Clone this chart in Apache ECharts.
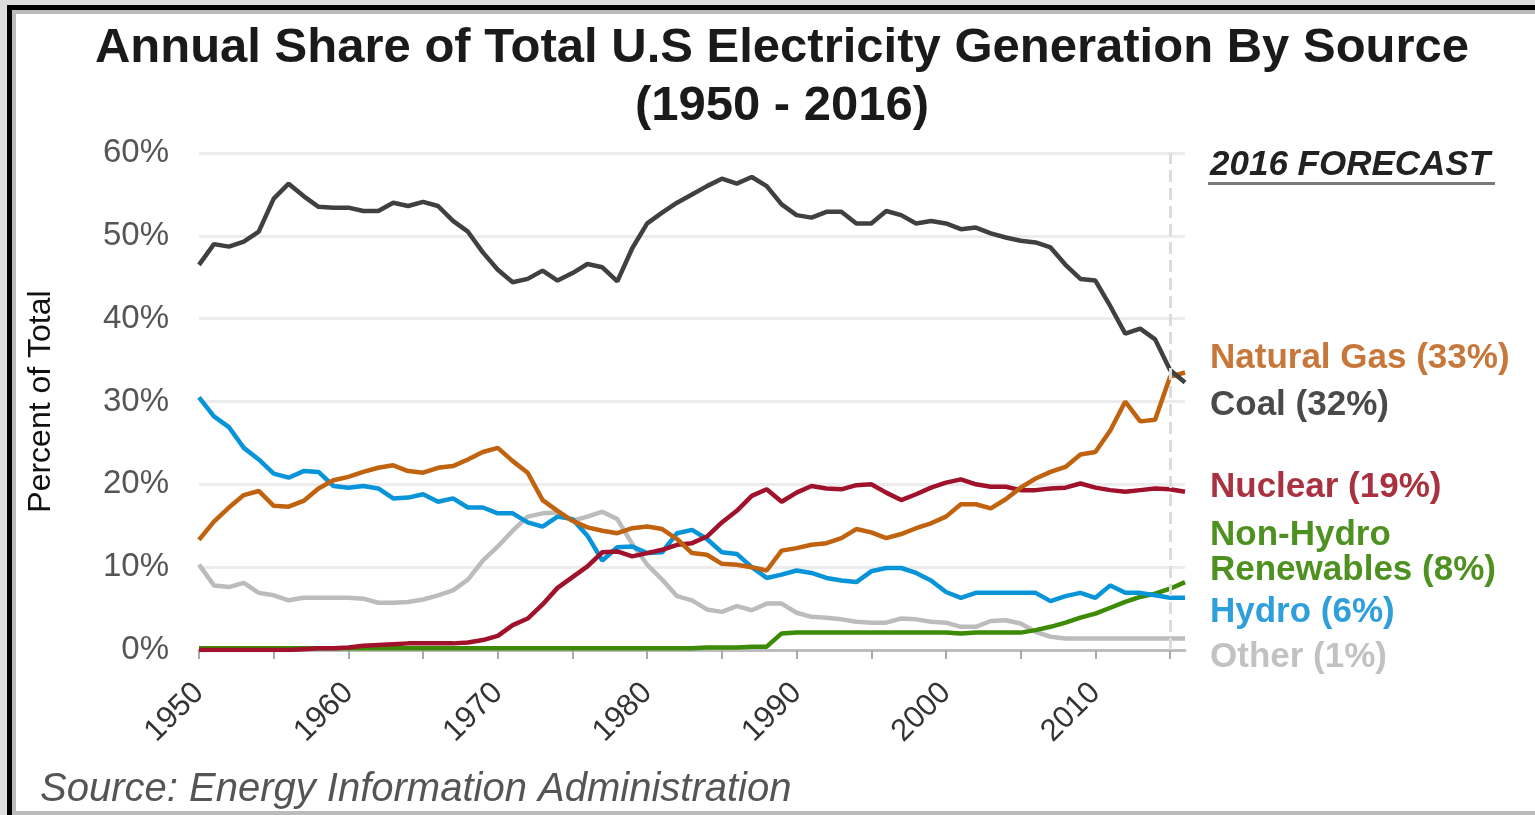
<!DOCTYPE html>
<html>
<head>
<meta charset="utf-8">
<title>Annual Share of Total U.S Electricity Generation By Source</title>
<script src="https://cdn.jsdelivr.net/npm/echarts@6/dist/echarts.min.js"></script>
<style>
  html, body { margin: 0; padding: 0; background: #ddd; overflow: hidden; }
  #frame { position: absolute; left: 7px; top: 5px; width: 1540px; height: 810px;
           border-left: 5px solid #000; border-top: 5px solid #000; background: #bbb; }
  #paper { position: absolute; left: 16px; top: 14px; width: 1530px; height: 797px; background: #fff; }
  #chart { position: absolute; left: 0; top: 0; width: 1535px; height: 815px; }
</style>
</head>
<body>
<div id="frame"></div>
<div id="paper"></div>
<div id="chart"></div>
<script>
const annees = [];
for (let a = 1950; a <= 2016; a++) annees.push(String(a));

const charbon = [
  46.5, 49.0, 48.7, 49.3, 50.5, 54.5, 56.3, 54.8, 53.5, 53.4,
  53.4, 53.0, 53.0, 54.0, 53.6, 54.1, 53.6, 51.8, 50.5, 48.0,
  45.9, 44.4, 44.8, 45.8, 44.6, 45.5, 46.6, 46.2, 44.5, 48.5,
  51.5, 52.8, 54.0, 55.0, 56.0, 56.9, 56.3, 57.1, 56.0, 53.8,
  52.5, 52.2, 52.9, 52.9, 51.5, 51.5, 53.0, 52.5, 51.5, 51.8,
  51.5, 50.8, 51.0, 50.3, 49.8, 49.4, 49.2, 48.6, 46.5, 44.8,
  44.6, 41.5, 38.2, 38.8, 37.5, 33.8, 32.3
];
const gaz = [
  13.3, 15.5, 17.2, 18.7, 19.2, 17.4, 17.3, 18.0, 19.5, 20.5,
  20.9, 21.5, 22.0, 22.3, 21.6, 21.4, 22.0, 22.2, 23.0, 23.9,
  24.4, 22.8, 21.4, 18.1, 16.8, 15.6, 14.8, 14.4, 14.1, 14.7,
  14.9, 14.6, 13.4, 11.7, 11.5, 10.4, 10.3, 10.0, 9.6, 12.0,
  12.3, 12.7, 12.9, 13.5, 14.6, 14.2, 13.5, 14.0, 14.7, 15.3,
  16.1, 17.6, 17.6, 17.1, 18.2, 19.6, 20.7, 21.5, 22.1, 23.6,
  23.9, 26.5, 30.0, 27.6, 27.8, 33.0, 33.5
];
const nucleaire = [
  0.0, 0.0, 0.0, 0.0, 0.0, 0.0, 0.0, 0.1, 0.2, 0.2,
  0.3, 0.5, 0.6, 0.7, 0.8, 0.8, 0.8, 0.8, 0.9, 1.2,
  1.7, 3.0, 3.8, 5.5, 7.5, 8.8, 10.1, 11.8, 11.9, 11.3,
  11.7, 12.1, 12.7, 12.9, 13.7, 15.4, 16.8, 18.6, 19.4, 17.9,
  19.0, 19.8, 19.5, 19.4, 19.9, 20.0, 19.0, 18.1, 18.8, 19.6,
  20.2, 20.6, 20.0, 19.7, 19.7, 19.3, 19.3, 19.5, 19.6, 20.1,
  19.6, 19.3, 19.1, 19.3, 19.5, 19.4, 19.1
];
const renouvelables = [
  0.2, 0.2, 0.2, 0.2, 0.2, 0.2, 0.2, 0.2, 0.2, 0.2,
  0.2, 0.2, 0.2, 0.2, 0.2, 0.2, 0.2, 0.2, 0.2, 0.2,
  0.2, 0.2, 0.2, 0.2, 0.2, 0.2, 0.2, 0.2, 0.2, 0.2,
  0.2, 0.2, 0.2, 0.2, 0.3, 0.3, 0.3, 0.4, 0.4, 2.0,
  2.1, 2.1, 2.1, 2.1, 2.1, 2.1, 2.1, 2.1, 2.1, 2.1,
  2.1, 2.0, 2.1, 2.1, 2.1, 2.1, 2.4, 2.8, 3.3, 3.9,
  4.4, 5.1, 5.8, 6.4, 6.8, 7.4, 8.2
];
const hydro = [
  30.5, 28.2, 26.9, 24.4, 23.0, 21.3, 20.8, 21.6, 21.5, 19.8,
  19.6, 19.8, 19.5, 18.3, 18.4, 18.8, 17.9, 18.3, 17.2, 17.2,
  16.5, 16.5, 15.4, 14.9, 16.1, 15.8, 13.8, 10.8, 12.4, 12.5,
  11.7, 11.8, 14.1, 14.5, 13.4, 11.8, 11.6, 10.0, 8.7, 9.1,
  9.6, 9.3, 8.7, 8.4, 8.2, 9.5, 9.9, 9.9, 9.3, 8.4,
  7.0, 6.3, 6.9, 6.9, 6.9, 6.9, 6.9, 5.9, 6.5, 6.9,
  6.3, 7.8, 6.9, 6.9, 6.6, 6.3, 6.3
];
const autres = [
  10.3, 7.8, 7.6, 8.1, 6.9, 6.6, 6.0, 6.3, 6.3, 6.3,
  6.3, 6.2, 5.7, 5.7, 5.8, 6.1, 6.6, 7.2, 8.5, 10.8,
  12.5, 14.4, 16.1, 16.5, 16.6, 15.6, 16.1, 16.7, 15.8, 12.8,
  10.3, 8.5, 6.5, 6.0, 4.9, 4.6, 5.3, 4.8, 5.6, 5.6,
  4.5, 4.0, 3.9, 3.7, 3.4, 3.3, 3.3, 3.8, 3.7, 3.4,
  3.3, 2.8, 2.8, 3.5, 3.6, 3.2, 2.2, 1.6, 1.4, 1.4,
  1.4, 1.4, 1.4, 1.4, 1.4, 1.4, 1.4
];

const COULEURS = {
  charbon: "#404040",
  gaz: "#c0620e",
  nucleaire: "#a0112c",
  renouvelables: "#3d8a05",
  hydro: "#0894d8",
  autres: "#bcbcbc",
};

// étiquettes à droite : [texte, couleur, y]
const etiquettes = [
  ["Natural Gas (33%)", "#c8773a", 358],
  ["Coal (32%)", "#4a4a4a", 405],
  ["Nuclear (19%)", "#a8323f", 487],
  ["Non-Hydro", "#4f9120", 535],
  ["Renewables (8%)", "#4f9120", 570],
  ["Hydro (6%)", "#2f9fdc", 612],
  ["Other (1%)", "#c2c2c2", 657],
];

const FONTE = "'Liberation Sans', Arial, sans-serif";

function serie(nom, donnees, couleur, extra) {
  return Object.assign({
    name: nom,
    type: "line",
    data: donnees,
    symbol: "none",
    lineStyle: { color: couleur, width: 4.5 },
    itemStyle: { color: couleur },
    animation: false,
  }, extra || {});
}

const g = echarts.init(document.getElementById("chart"));
g.setOption({
  backgroundColor: "transparent",
  textStyle: { fontFamily: FONTE },
  title: {
    text: "Annual Share of Total U.S Electricity Generation By Source\n(1950 - 2016)",
    left: 777,
    top: 14,
    textAlign: "center",
    textStyle: { fontFamily: FONTE, fontSize: 49, fontWeight: "bold", color: "#1a1a1a", lineHeight: 58 },
  },
  grid: { left: 199, right: 350, top: 153, bottom: 165 },
  xAxis: {
    type: "category",
    data: annees,
    boundaryGap: false,
    axisLine: { lineStyle: { color: "#bdbdbd", width: 3 } },
    axisTick: { interval: (i) => i % 5 === 0, length: 9, lineStyle: { color: "#aaa", width: 2 } },
    axisLabel: {
      interval: (i) => i % 10 === 0,
      rotate: 45,
      margin: 38,
      fontSize: 31,
      color: "#333",
    },
    splitLine: { show: false },
  },
  yAxis: {
    type: "value",
    min: 0,
    max: 60,
    interval: 10,
    axisLine: { show: false },
    axisTick: { show: false },
    axisLabel: { formatter: "{value}%", fontSize: 33, color: "#555", margin: 30 },
    splitLine: { lineStyle: { color: "#ececec", width: 3 } },
    name: "Percent of Total",
    nameLocation: "middle",
    nameRotate: 90,
    nameGap: 142,
    nameTextStyle: { fontSize: 32, color: "#111" },
  },
  series: [
    serie("Other", autres, COULEURS.autres, {
      markLine: {
        silent: true,
        symbol: "none",
        label: { show: false },
        lineStyle: { color: "#dcdcdc", type: "dashed", width: 3 },
        data: [{ xAxis: "2015" }],
      },
    }),
    serie("Non-Hydro Renewables", renouvelables, COULEURS.renouvelables),
    serie("Hydro", hydro, COULEURS.hydro),
    serie("Nuclear", nucleaire, COULEURS.nucleaire),
    serie("Natural Gas", gaz, COULEURS.gaz),
    serie("Coal", charbon, COULEURS.charbon),
  ],
  graphic: [
    {
      type: "text",
      x: 1210,
      y: 165,
      style: {
        text: "2016 FORECAST",
        font: "italic bold 35px " + FONTE,
        fill: "#222",
        verticalAlign: "middle",
      },
    },
    { type: "rect", shape: { x: 1208, y: 182, width: 287, height: 3 }, style: { fill: "#7a7a7a" } },
    ...etiquettes.map(([t, c, y]) => ({
      type: "text",
      x: 1210,
      y: y,
      style: { text: t, font: "bold 35px " + FONTE, fill: c, verticalAlign: "middle" },
    })),
    {
      type: "text",
      x: 40,
      y: 790,
      style: {
        text: "Source: Energy Information Administration",
        font: "italic 40px " + FONTE,
        fill: "#555",
        verticalAlign: "middle",
      },
    },
  ],
});
</script>
</body>
</html>
